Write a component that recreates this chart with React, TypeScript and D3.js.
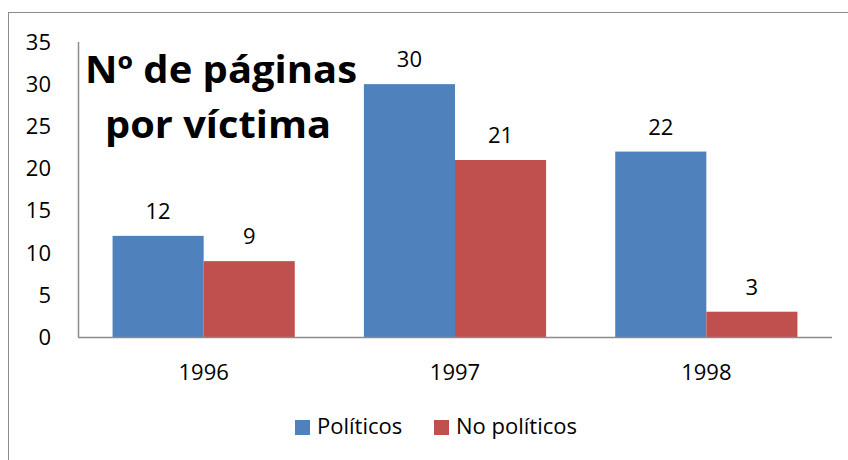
import React from "react";
import * as d3 from "d3";

const categories = ["1996", "1997", "1998"];
const seriesNames = ["Políticos", "No políticos"];
const politicos = [12, 30, 22];
const noPoliticos = [9, 21, 3];
const yTicks = [0, 5, 10, 15, 20, 25, 30, 35];
const colors = ["#4F81BD", "#C0504D"];
const titleLines = ["Nº de páginas", "por víctima"];

const W = 848;
const H = 460;
const FONT = "'Open Sans', 'Noto Sans', sans-serif";

export default function App() {
  const left = 78, right = 832, top = 42, bottom = 337;
  const x = d3.scaleBand<string>().domain(categories).range([left, right]).padding(0);
  const groupW = x.bandwidth() * 0.725;
  const inner = d3.scaleBand<number>().domain([0, 1]).range([0, groupW]).padding(0);
  const y = d3.scaleLinear().domain([0, 35]).range([bottom, top]);
  const series = [politicos, noPoliticos];

  return (
    <svg width={W} height={H} style={{ position: "absolute", left: 0, top: 0 }} fontFamily={FONT}>
      <rect x={0} y={0} width={W} height={H} fill="#fff" />
      <rect x={8.5} y={12.5} width={W + 10} height={H + 10} fill="none" stroke="#8c8c8c" strokeWidth={1} />
      {categories.map((c, i) =>
        series.map((s, j) => {
          const bx = (x(c) as number) + (x.bandwidth() - groupW) / 2 + (inner(j) as number);
          const by = y(s[i]);
          return (
            <g key={c + j}>
              <rect x={bx} y={by} width={inner.bandwidth()} height={bottom - by} fill={colors[j]} />
              <text x={bx + inner.bandwidth() / 2} y={by - 17} textAnchor="middle" fontSize={22} fill="#000">
                {s[i]}
              </text>
            </g>
          );
        })
      )}
      <line x1={left + 0.5} x2={left + 0.5} y1={top} y2={bottom} stroke="#8c8c8c" strokeWidth={1.5} />
      <line x1={left} x2={right} y1={bottom + 0.5} y2={bottom + 0.5} stroke="#8c8c8c" strokeWidth={1.5} />
      {yTicks.map((t) => (
        <text key={t} x={51} y={y(t)} dy="0.36em" textAnchor="end" fontSize={22} fill="#000">
          {t}
        </text>
      ))}
      {categories.map((c) => (
        <text key={c} x={(x(c) as number) + x.bandwidth() / 2} y={380} textAnchor="middle" fontSize={22} fill="#000">
          {c}
        </text>
      ))}
      <text fontSize={38} fontWeight="bold" textAnchor="middle" fill="#000">
        <tspan x={221} y={83} textLength={272} lengthAdjust="spacingAndGlyphs">{titleLines[0]}</tspan>
      </text>
      <text fontSize={38} fontWeight="bold" textAnchor="middle" fill="#000">
        <tspan x={218} y={138} textLength={226} lengthAdjust="spacingAndGlyphs">{titleLines[1]}</tspan>
      </text>
      <rect x={295} y={420} width={15} height={15} fill={colors[0]} />
      <text x={317} y={434} fontSize={22} fill="#000">{seriesNames[0]}</text>
      <rect x={434} y={420} width={15} height={15} fill={colors[1]} />
      <text x={456} y={434} fontSize={22} fill="#000">{seriesNames[1]}</text>
    </svg>
  );
}
